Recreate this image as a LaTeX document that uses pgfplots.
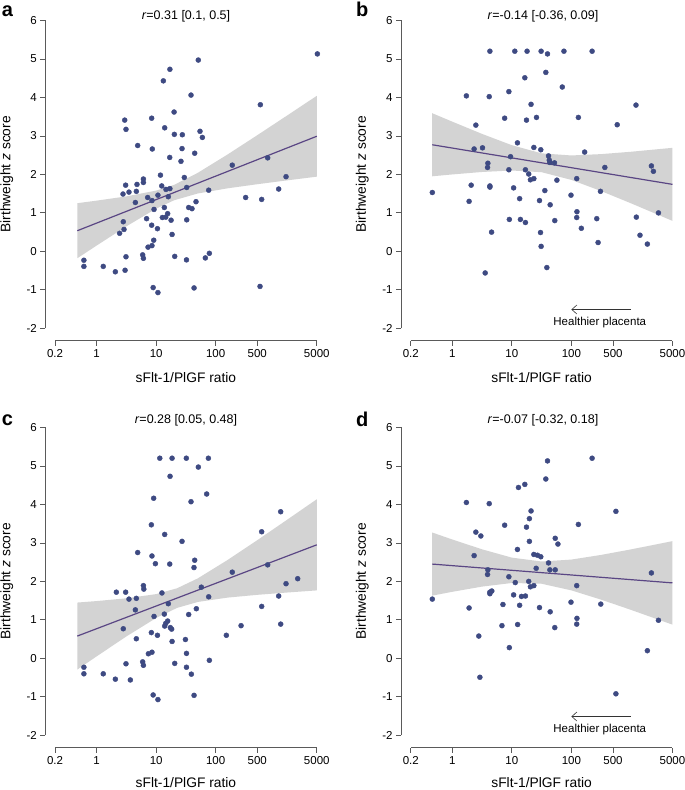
\documentclass[border=0pt]{standalone}
\usepackage{fontspec}
\setmainfont{Liberation Sans}
\usepackage{pgfplots}
\pgfplotsset{compat=1.18}
\usetikzlibrary{arrows.meta}
\definecolor{ptblue}{HTML}{3E4A82}
\definecolor{regline}{HTML}{5A4684}
\definecolor{bandgray}{HTML}{D3D3D3}
\definecolor{axisgray}{HTML}{5A5A5A}
\newcommand{\rlines}[1]{%
  \draw[axisgray, line width=0.8pt] (axis cs:0.2,-2.32) -- (axis cs:5000,-2.32);
  \draw[axisgray, line width=0.8pt] (axis cs:0.137,-2) -- (axis cs:0.137,6);
  \node[inner sep=0pt, font=\fontsize{13.8}{14}\selectfont] at ([yshift=-#1pt]axis cs:31.6,-2.32) {sFlt-1/PlGF ratio};
  \node[rotate=90, font=\fontsize{13.8}{14}\selectfont] at ([xshift=-38.6pt]axis cs:0.137,2) {Birthweight \textit{z} score};
}
\newcommand{\healthier}{%
  \draw[black!80, line width=0.6pt, -{Straight Barb[length=5pt,width=9pt]}] (axis cs:1000,-1.51) -- (axis cs:100,-1.51);
  \node[font=\fontsize{11.5}{12}\selectfont] at (axis cs:300,-1.84) {Healthier placenta};
}
\begin{document}
\begin{tikzpicture}
\useasboundingbox (0pt,0pt) rectangle (685pt,790pt);
% ---------- panel a ----------
\begin{axis}[at={(45.3pt,449.3pt)},
    xmode=log, scale only axis, width=281.3pt, height=332.6pt,
    xmin=0.137, xmax=7310, ymin=-2.32, ymax=6.32,
    anchor=south west, clip=false,
    axis x line*=bottom, axis y line*=left, axis line style={draw=none},
    xtick={0.2,1,10,100,500,5000}, xticklabels={0.2,1,10,100,500,5000},
    xminorticks=false,
    ytick={-2,-1,0,1,2,3,4,5,6}, yticklabels={-2,-1,0,1,2,3,4,5,6},
    tick align=outside, major tick length=5pt,
    tick style={axisgray, line width=0.8pt},
    tick label style={font=\fontsize{11.5}{12}\selectfont, text=black}]
\addplot[fill=bandgray, draw=none] coordinates {(0.473,1.252)(1,1.318)(3.16,1.429)(10,1.579)(20,1.728)(50,2.040)(158,2.516)(501,3.019)(1585,3.529)(5000,4.041)
 (5000,1.941)(1585,1.845)(501,1.745)(158,1.638)(50,1.504)(20,1.328)(10,1.111)(3.16,0.651)(1,0.152)(0.473,-0.178)} -- cycle;
\addplot[regline, line width=1.2pt, no marks] coordinates {(0.473,0.537)(5000,2.991)};
\addplot[only marks, mark=*, mark size=2.5pt, mark options={fill=ptblue, draw=ptblue}] coordinates {(5116,5.13)(51,4.97)(17,4.73)(13.2,4.43)(38.5,4.06)(563,3.81)(20,3.62)(2.96,3.41)(8.4,3.46)(3.11,3.17)(13.9,3.21)(54.5,3.12)(20.2,3.04)(27.5,3.03)(59.7,2.96)(4.89,2.75)(8.6,2.66)(27.2,2.67)(44.4,2.55)(16.9,2.44)(748,2.43)(26.1,2.34)(190,2.24)(11.8,1.98)(1521,1.94)(29.7,1.92)(6.1,1.88)(6.1,1.79)(3.07,1.72)(4.76,1.74)(12.4,1.70)(14.6,1.61)(17,1.63)(32.6,1.66)(1145,1.62)(76.3,1.59)(2.77,1.49)(3.49,1.54)(4.64,1.56)(10.7,1.46)(7.2,1.40)(16,1.42)(319,1.40)(8.5,1.32)(593,1.35)(4.47,1.27)(46.7,1.29)(35.2,1.14)(13.7,1.14)(40,1.11)(9.2,1.09)(15.6,0.98)(12.7,0.88)(14.5,0.89)(17.8,0.81)(32.6,0.82)(6.9,0.85)(2.8,0.77)(8.4,0.68)(10.5,0.59)(2.88,0.57)(2.43,0.47)(18.5,0.44)(9.1,0.29)(7.3,0.11)(8.5,0.15)(5.93,-0.09)(6.1,-0.18)(3.11,-0.14)(0.61,-0.23)(0.61,-0.39)(1.29,-0.39)(2.06,-0.53)(3.0,-0.49)(20.5,-0.13)(32.3,-0.22)(67,-0.17)(78.3,-0.05)(8.9,-0.94)(10.7,-1.07)(43.3,-0.95)(556,-0.91)};
\rlines{37.3}
\end{axis}
% ---------- panel b ----------
\begin{axis}[at={(401pt,449.3pt)},
    xmode=log, scale only axis, width=281.3pt, height=332.6pt,
    xmin=0.137, xmax=7310, ymin=-2.32, ymax=6.32,
    anchor=south west, clip=false,
    axis x line*=bottom, axis y line*=left, axis line style={draw=none},
    xtick={0.2,1,10,100,500,5000}, xticklabels={0.2,1,10,100,500,5000},
    xminorticks=false,
    ytick={-2,-1,0,1,2,3,4,5,6}, yticklabels={-2,-1,0,1,2,3,4,5,6},
    tick align=outside, major tick length=5pt,
    tick style={axisgray, line width=0.8pt},
    tick label style={font=\fontsize{11.5}{12}\selectfont, text=black}]
\addplot[fill=bandgray, draw=none] coordinates {(0.459,3.589)(1,3.369)(3.16,3.051)(10,2.758)(31.6,2.547)(100,2.492)(316,2.527)(1000,2.588)(5000,2.690)
 (5000,0.792)(1000,1.250)(316,1.567)(100,1.857)(31.6,2.057)(10,2.101)(3.16,2.063)(1,1.999)(0.459,1.951)} -- cycle;
\addplot[regline, line width=1.2pt, no marks] coordinates {(0.459,2.770)(5000,1.741)};
\addplot[only marks, mark=*, mark size=2.5pt, mark options={fill=ptblue, draw=ptblue}] coordinates {(4.27,5.20)(11.2,5.20)(18,5.20)(31,5.20)(75,5.20)(223,5.20)(39.7,5.13)(37.2,4.65)(16.5,4.51)(70.3,4.27)(8.9,4.15)(1.72,4.04)(4.16,4.02)(21,3.82)(1218,3.80)(7.56,3.46)(25.9,3.48)(131,3.48)(17.6,3.41)(2.48,3.28)(589,3.29)(12.4,2.82)(3.21,2.69)(2.32,2.66)(23.4,2.70)(30.6,2.64)(167,2.58)(41.3,2.48)(9.5,2.46)(42.5,2.37)(43.5,2.31)(52,2.30)(3.95,2.29)(3.9,2.18)(365,2.18)(2212,2.22)(2390,2.08)(8.9,2.12)(16.9,2.12)(19.2,2.01)(20.5,1.86)(23.4,1.89)(57.1,1.85)(123,1.89)(2.07,1.72)(4.27,1.70)(4.27,1.67)(10.7,1.65)(35.8,1.58)(308,1.56)(98.5,1.46)(0.46,1.53)(1.91,1.30)(13.5,1.37)(29.1,1.32)(44,1.21)(124,1.03)(2904,1.00)(123,0.88)(267,0.85)(1234,0.89)(9.06,0.83)(13.9,0.83)(16.9,0.75)(52.6,0.80)(147,0.60)(4.56,0.50)(30.3,0.49)(1422,0.42)(31,0.13)(281,0.23)(1892,0.19)(38.7,-0.42)(3.56,-0.56)};
\rlines{37.3}
\healthier
\end{axis}
% ---------- panel c ----------
\begin{axis}[at={(45.3pt,42.3pt)},
    xmode=log, scale only axis, width=281.3pt, height=332.6pt,
    xmin=0.137, xmax=7310, ymin=-2.32, ymax=6.32,
    anchor=south west, clip=false,
    axis x line*=bottom, axis y line*=left, axis line style={draw=none},
    xtick={0.2,1,10,100,500,5000}, xticklabels={0.2,1,10,100,500,5000},
    xminorticks=false,
    ytick={-2,-1,0,1,2,3,4,5,6}, yticklabels={-2,-1,0,1,2,3,4,5,6},
    tick align=outside, major tick length=5pt,
    tick style={axisgray, line width=0.8pt},
    tick label style={font=\fontsize{11.5}{12}\selectfont, text=black}]
\addplot[fill=bandgray, draw=none] coordinates {(0.473,1.450)(1,1.489)(3.16,1.561)(10,1.670)(22.4,1.821)(50,2.078)(158,2.555)(501,3.071)(1585,3.601)(5000,4.134)
 (5000,1.766)(1585,1.711)(501,1.651)(158,1.579)(50,1.466)(22.4,1.311)(10,1.050)(3.16,0.571)(1,0.053)(0.473,-0.290)} -- cycle;
\addplot[regline, line width=1.2pt, no marks] coordinates {(0.473,0.580)(5000,2.950)};
\addplot[only marks, mark=*, mark size=2.5pt, mark options={fill=ptblue, draw=ptblue}] coordinates {(11.5,5.20)(18.5,5.20)(32.1,5.20)(75.4,5.20)(51.1,4.97)(17.1,4.73)(70.6,4.27)(9.08,4.16)(38.5,4.07)(1237,3.81)(8.3,3.47)(593,3.29)(13.9,3.22)(27.2,3.04)(4.89,2.75)(8.5,2.66)(44.4,2.55)(9.7,2.46)(16.9,2.45)(43.2,2.36)(748,2.43)(190,2.24)(2389,2.07)(1521,1.94)(57.4,1.85)(6.1,1.89)(6.2,1.80)(2.14,1.72)(3.07,1.72)(12.5,1.70)(3.49,1.54)(4.64,1.56)(76.3,1.60)(1145,1.62)(16,1.42)(4.47,1.26)(47.3,1.29)(593,1.35)(35.2,1.14)(13.7,1.15)(9.2,1.09)(15.6,0.97)(14.5,0.91)(13.9,0.84)(17.3,0.80)(18.2,0.76)(2.8,0.77)(267,0.85)(1237,0.89)(151,0.60)(8.3,0.67)(10.5,0.60)(4.64,0.51)(31,0.49)(18.5,0.44)(7.4,0.12)(8.5,0.16)(32.3,0.13)(5.93,-0.09)(6.1,-0.18)(3.11,-0.14)(20.5,-0.13)(32.3,-0.23)(78.3,-0.05)(0.61,-0.23)(0.61,-0.40)(1.29,-0.40)(2.06,-0.54)(3.68,-0.56)(39,-0.41)(8.9,-0.95)(10.7,-1.07)(43.3,-0.96)};
\rlines{35.3}
\end{axis}
% ---------- panel d ----------
\begin{axis}[at={(401pt,42.3pt)},
    xmode=log, scale only axis, width=281.3pt, height=332.6pt,
    xmin=0.137, xmax=7310, ymin=-2.32, ymax=6.32,
    anchor=south west, clip=false,
    axis x line*=bottom, axis y line*=left, axis line style={draw=none},
    xtick={0.2,1,10,100,500,5000}, xticklabels={0.2,1,10,100,500,5000},
    xminorticks=false,
    ytick={-2,-1,0,1,2,3,4,5,6}, yticklabels={-2,-1,0,1,2,3,4,5,6},
    tick align=outside, major tick length=5pt,
    tick style={axisgray, line width=0.8pt},
    tick label style={font=\fontsize{11.5}{12}\selectfont, text=black}]
\addplot[fill=bandgray, draw=none] coordinates {(0.459,3.270)(1,3.088)(3.16,2.833)(10,2.617)(31.6,2.517)(100,2.567)(316,2.688)(1000,2.831)(5000,3.046)
 (5000,0.876)(1000,1.261)(316,1.526)(100,1.767)(31.6,1.939)(10,1.959)(3.16,1.865)(1,1.730)(0.459,1.630)} -- cycle;
\addplot[regline, line width=1.2pt, no marks] coordinates {(0.459,2.450)(5000,1.961)};
\addplot[only marks, mark=*, mark size=2.5pt, mark options={fill=ptblue, draw=ptblue}] coordinates {(223,5.20)(39.7,5.13)(37.2,4.66)(16.5,4.52)(12.9,4.44)(1.72,4.05)(4.16,4.02)(21,3.83)(560,3.82)(19.7,3.63)(7.56,3.46)(131,3.48)(17.6,3.41)(2.48,3.28)(3.01,3.18)(53.5,3.12)(59.4,2.97)(19.7,3.04)(12.4,2.83)(2.32,2.67)(23.4,2.70)(26.9,2.68)(30.6,2.64)(41.3,2.48)(25.6,2.34)(43.5,2.30)(53.5,2.30)(3.95,2.30)(3.9,2.18)(2212,2.22)(8.9,2.12)(11.4,1.97)(19.2,2.00)(20.5,1.86)(23.4,1.89)(123,1.89)(4.27,1.72)(4.6,1.75)(4.27,1.68)(10.7,1.65)(14.5,1.61)(16.9,1.62)(7.08,1.40)(13.5,1.38)(29.1,1.32)(312,1.41)(98.5,1.46)(0.46,1.54)(1.91,1.31)(44,1.21)(124,1.04)(2904,0.99)(123,0.89)(12.5,0.88)(6.81,0.85)(52.6,0.80)(2.78,0.58)(9.06,0.28)(1892,0.20)(2.9,-0.49)(560,-0.92)};
\rlines{35.3}
\healthier
\end{axis}
% ---------- titles and panel letters ----------
\node[font=\fontsize{12.5}{13}\selectfont] at (186pt,774pt) {\textit{r}=0.31 [0.1, 0.5]};
\node[font=\fontsize{12.5}{13}\selectfont] at (543pt,774pt) {\textit{r}=-0.14 [-0.36, 0.09]};
\node[font=\fontsize{12.5}{13}\selectfont] at (186pt,370pt) {\textit{r}=0.28 [0.05, 0.48]};
\node[font=\fontsize{12.5}{13}\selectfont] at (543pt,370pt) {\textit{r}=-0.07 [-0.32, 0.18]};
\node[font=\fontsize{20}{20}\bfseries, anchor=base west, inner sep=0pt] at (1.7pt,773.3pt) {a};
\node[font=\fontsize{20}{20}\bfseries, anchor=base west, inner sep=0pt] at (356pt,773.3pt) {b};
\node[font=\fontsize{20}{20}\bfseries, anchor=base west, inner sep=0pt] at (1.7pt,364.3pt) {c};
\node[font=\fontsize{20}{20}\bfseries, anchor=base west, inner sep=0pt] at (356pt,363.3pt) {d};
\end{tikzpicture}
\end{document}
